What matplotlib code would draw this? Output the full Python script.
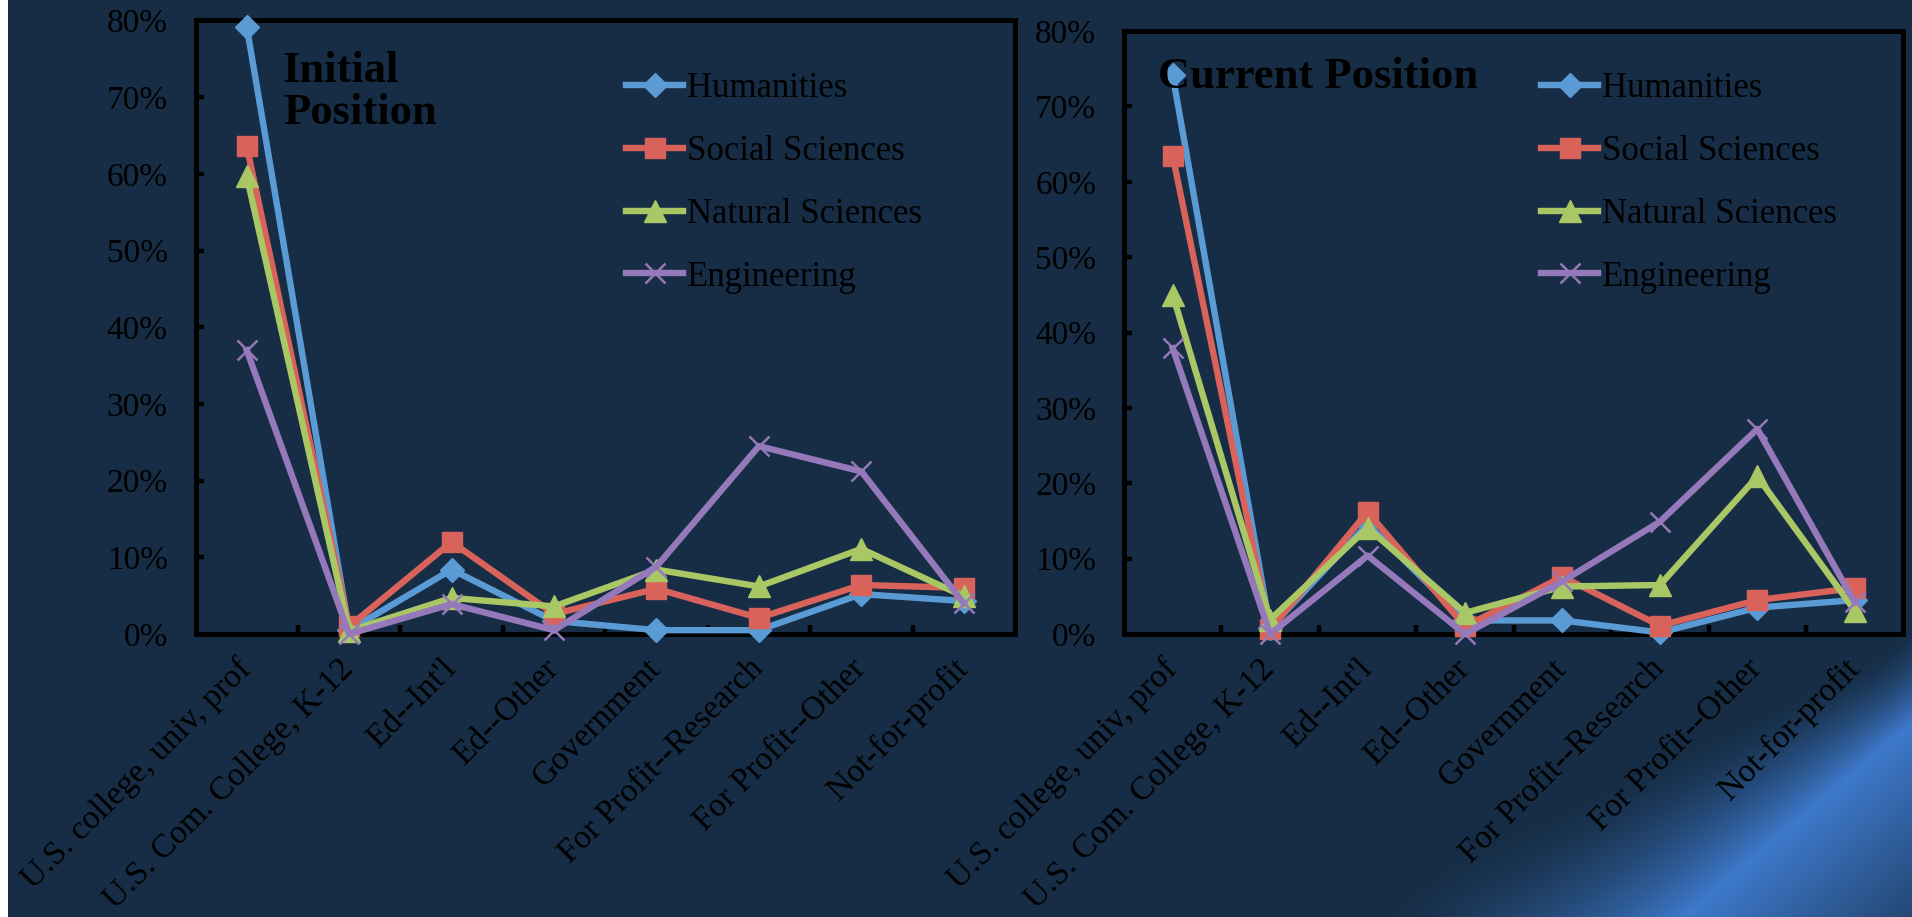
import numpy as np
import matplotlib.pyplot as plt
import matplotlib.transforms as mtransforms
from matplotlib.ticker import PercentFormatter

# categories (x axis) shared by both panels
categories = ['U.S. college, univ, prof', 'U.S. Com. College, K-12', "Ed--Int'l", 'Ed--Other',
              'Government', 'For Profit--Research', 'For Profit--Other', 'Not-for-profit']
series_names = ['Humanities', 'Social Sciences', 'Natural Sciences', 'Engineering']

# Initial position (percent)
hum_init = [79.2, 0.5, 8.4, 1.7, 0.5, 0.5, 5.2, 4.3]
soc_init = [63.6, 1.0, 12.0, 2.6, 5.9, 2.1, 6.4, 6.0]
nat_init = [59.7, 0.4, 4.7, 3.6, 8.4, 6.2, 11.1, 4.9]
eng_init = [37.0, 0.0, 3.9, 0.5, 8.8, 24.5, 21.2, 4.0]

# Current position (percent)
hum_cur = [74.1, 0.8, 14.6, 1.8, 1.8, 0.2, 3.5, 4.5]
soc_cur = [63.4, 0.6, 16.2, 1.0, 7.6, 1.1, 4.5, 6.1]
nat_cur = [45.0, 1.9, 14.1, 2.8, 6.3, 6.5, 20.9, 3.1]
eng_cur = [37.9, 0.0, 10.4, 0.0, 7.0, 14.9, 27.2, 4.2]

colors = ['#5b9bd5', '#d9625a', '#a9c764', '#9579ba']
markers = ['D', 's', '^', 'x']
msizes = [12, 15, 16, 14]

plt.rcParams['font.family'] = ['Liberation Serif', 'DejaVu Serif']

W, H = 1912, 917
fig = plt.figure(figsize=(W / 100, H / 100), dpi=100)

# background: dark navy with blue glow in the lower right corner
bg = fig.add_axes([0, 0, 1, 1], zorder=-10)
bg.axis('off')
yy, xx = np.mgrid[0:H, 0:W].astype(float)
d = (xx - 1700) * 0.65 + (yy - 903) * 0.76
s = (xx - 1912) * -0.76 + (yy - 721) * 0.65
w_up = 75 + 85 * np.clip(s / 300, 0, 1.5)
inten = np.where(d < 0, np.clip(1 + d / w_up, 0, 1) ** 1.5, np.clip(1 - d / 240, 0, 1) ** 1.1)
base = np.array([22, 45, 69]) / 255
glow = np.array([62, 121, 203]) / 255
img = base + inten[..., None] * (glow - base)
img[:, :8] = 1.0
bg.imshow(img, extent=[0, W, H, 0], aspect='auto', interpolation='bilinear')
bg.set_xlim(0, W)
bg.set_ylim(H, 0)


def panel(rect, data, title, title_xy, multiline, legend_xy):
    ax = fig.add_axes(rect)
    ax.set_facecolor('none')
    x = np.arange(len(categories))
    for vals, name, c, m, ms in zip(data, series_names, colors, markers, msizes):
        ax.plot(x, vals, color=c, lw=4.6, marker=m, ms=ms, mfc=c, mec=c,
                mew=1.8 if m == 'x' else 1, label=name, clip_on=False, zorder=3)
    ax.set_xlim(-0.5, 7.5)
    ax.set_ylim(0, 80)
    ax.set_yticks(range(0, 81, 10))
    ax.yaxis.set_major_formatter(PercentFormatter(100, decimals=0))
    ax.tick_params(axis='y', direction='in', length=5.5, width=3.2, pad=20,
                   labelsize=24, colors='black')
    ax.set_xticks(x)
    ax.set_xticklabels(categories, rotation=45, ha='right', va='top',
                       rotation_mode='anchor', fontsize=24)
    ax.tick_params(axis='x', which='major', length=0, pad=14)
    ax.set_xticks(np.arange(0.5, 7, 1), minor=True)
    ax.tick_params(axis='x', which='minor', direction='in', length=6.5, width=3.2)
    off = mtransforms.ScaledTranslation(-0.11, 0, fig.dpi_scale_trans)
    for lab in ax.get_xticklabels():
        lab.set_transform(lab.get_transform() + off)
    for sp in ax.spines.values():
        sp.set_linewidth(3.6)
        sp.set_color('black')
    ax.legend(loc='upper left', bbox_to_anchor=(legend_xy[0] / W, 1 - legend_xy[1] / H),
              bbox_transform=fig.transFigure, frameon=False, fontsize=25,
              handlelength=1.65, handletextpad=0.1, labelspacing=0.86,
              borderpad=0, borderaxespad=0)
    if multiline:
        fig.text(title_xy[0] / W, 1 - title_xy[1] / H, title, fontsize=32, fontweight='bold',
                 ha='left', va='top', linespacing=1.05)
    else:
        fig.text(title_xy[0] / W, 1 - title_xy[1] / H, title, fontsize=32, fontweight='bold',
                 ha='left', va='baseline')
    return ax


panel([195.5 / W, 1 - 634 / H, (1015 - 195.5) / W, (634 - 20.5) / H],
      [hum_init, soc_init, nat_init, eng_init], 'Initial\nPosition', (283, 51), True, (626, 72))
panel([1124 / W, 1 - 634 / H, (1903.5 - 1124) / W, (634 - 31) / H],
      [hum_cur, soc_cur, nat_cur, eng_cur], 'Current Position', (1158, 88), False, (1541, 72))

fig.savefig('out.png', dpi=100)
